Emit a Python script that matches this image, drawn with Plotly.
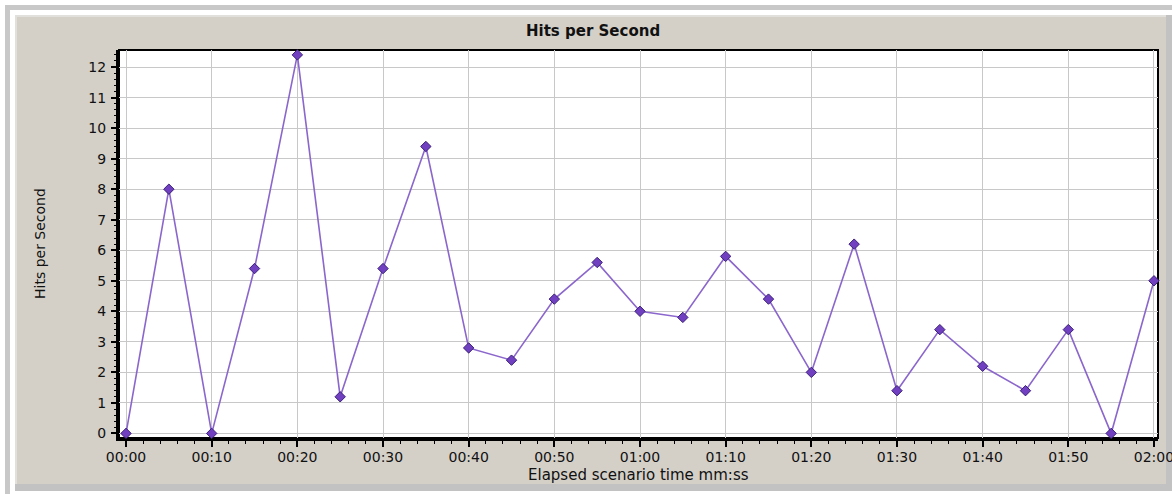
import plotly.graph_objects as go

# ---- data ----
seconds = [0, 5, 10, 15, 20, 25, 30, 35, 40, 45, 50, 55, 60,
           65, 70, 75, 80, 85, 90, 95, 100, 105, 110, 115, 120]
hits = [0, 8.0, 0, 5.4, 12.4, 1.2, 5.4, 9.4, 2.8, 2.4, 4.4, 5.6, 4.0,
        3.8, 5.8, 4.4, 2.0, 6.2, 1.4, 3.4, 2.2, 1.4, 3.4, 0, 5.0]
tick_seconds = [0, 10, 20, 30, 40, 50, 60, 70, 80, 90, 100, 110, 120]
tick_labels = ["00:00", "00:10", "00:20", "00:30", "00:40", "00:50", "01:00",
               "01:10", "01:20", "01:30", "01:40", "01:50", "02:00"]
y_ticks = list(range(0, 13))
chart_title = "Hits per Second"
y_title = "Hits per Second"
x_title = "Elapsed scenario time mm:ss"

# ---- layout geometry (pixels) ----
W, H = 1172, 494
L, R, T, B = 119, 1158, 50, 438


def px(x):
    return (x - L) / (R - L)


def py(y):
    return (B - y) / (B - T)


FONT = "DejaVu Sans"
PANEL = "#d4d0c8"


def rect(x0, y0, x1, y1, fill, line=None):
    return dict(type="rect", xref="paper", yref="paper",
                x0=px(x0), x1=px(x1), y0=py(y1), y1=py(y0),
                fillcolor=fill,
                line=line if line else dict(width=0), layer="below")


fig = go.Figure()
fig.add_trace(go.Scatter(
    x=seconds, y=hits, mode="lines+markers",
    line=dict(color="#8b66cc", width=1.6),
    marker=dict(symbol="diamond", size=8, color="#7040c0",
                line=dict(color="#3a1f78", width=1)),
    cliponaxis=False, showlegend=False,
))

shapes = [
    # white surround outside the grey panel
    rect(0, 0, W, 15, "white"),
    rect(0, 0, 15, H, "white"),
    rect(0, 485, W, H, "white"),
    rect(1170, 0, W, H, "white"),
    # outer light frame lines
    rect(5, 5, W, 10, "#c8c8c8"),
    rect(5, 5, 10, H, "#c8c8c8"),
    # panel edges
    rect(15, 15, 1170, 17, "#e2e0dc"),
    rect(15, 15, 17, 485, "#e2e0dc"),
    rect(15, 484, W, 491, "#c2c2c2"),
    rect(1166, 15, W, 491, "#c2c2c2"),
    # plot frame
    dict(type="rect", xref="paper", yref="paper", x0=0, x1=1, y0=0, y1=1,
         line=dict(color="black", width=2), fillcolor="rgba(0,0,0,0)", layer="below"),
]

annotations = [
    dict(text="<b>%s</b>" % chart_title, xref="paper", yref="paper",
         x=px(593), y=py(31), xanchor="center", yanchor="middle", showarrow=False,
         font=dict(family=FONT, size=15, color="#111")),
    dict(text=y_title, xref="paper", yref="paper", textangle=-90,
         x=px(40), y=py(244), xanchor="center", yanchor="middle", showarrow=False,
         font=dict(family=FONT, size=14, color="#111")),
    dict(text=x_title, xref="paper", yref="paper",
         x=px(638), y=py(475), xanchor="center", yanchor="middle", showarrow=False,
         font=dict(family=FONT, size=15, color="#111")),
]

fig.update_layout(
    width=W, height=H, autosize=False,
    margin=dict(l=L, r=W - R, t=T, b=H - B, pad=0, autoexpand=False),
    paper_bgcolor=PANEL, plot_bgcolor="white",
    shapes=shapes, annotations=annotations,
    font=dict(family=FONT, size=14, color="#111"),
)

fig.update_xaxes(
    range=[-0.82, 120.47], tickmode="array", tickvals=tick_seconds, ticktext=tick_labels,
    showgrid=True, gridcolor="#c8c8c8", gridwidth=1, zeroline=False,
    showline=True, linecolor="black", linewidth=3,
    ticks="outside", ticklen=6, tickwidth=1.5, tickcolor="black",
    ticklabelstandoff=-2, ticklabeloverflow="allow", automargin=False,
    minor=dict(tickmode="linear", tick0=0, dtick=2, ticks="outside", ticklen=3,
               tickwidth=1, tickcolor="black", showgrid=False),
    layer="below traces", fixedrange=True,
)
fig.update_yaxes(
    range=[-0.15, 12.56], tickmode="array", tickvals=y_ticks,
    showgrid=True, gridcolor="#c8c8c8", gridwidth=1, zeroline=False,
    showline=True, linecolor="black", linewidth=3,
    ticks="outside", ticklen=5, tickwidth=1.5, tickcolor="black",
    ticklabelstandoff=2, automargin=False,
    minor=dict(tickmode="linear", tick0=0, dtick=0.2, ticks="outside", ticklen=2,
               tickwidth=1, tickcolor="black", showgrid=False),
    layer="below traces", fixedrange=True,
)

fig.write_html(
    "out.html",
    config={"displayModeBar": False},
    post_script="document.body.style.margin='0';document.body.style.overflow='hidden';",
)
